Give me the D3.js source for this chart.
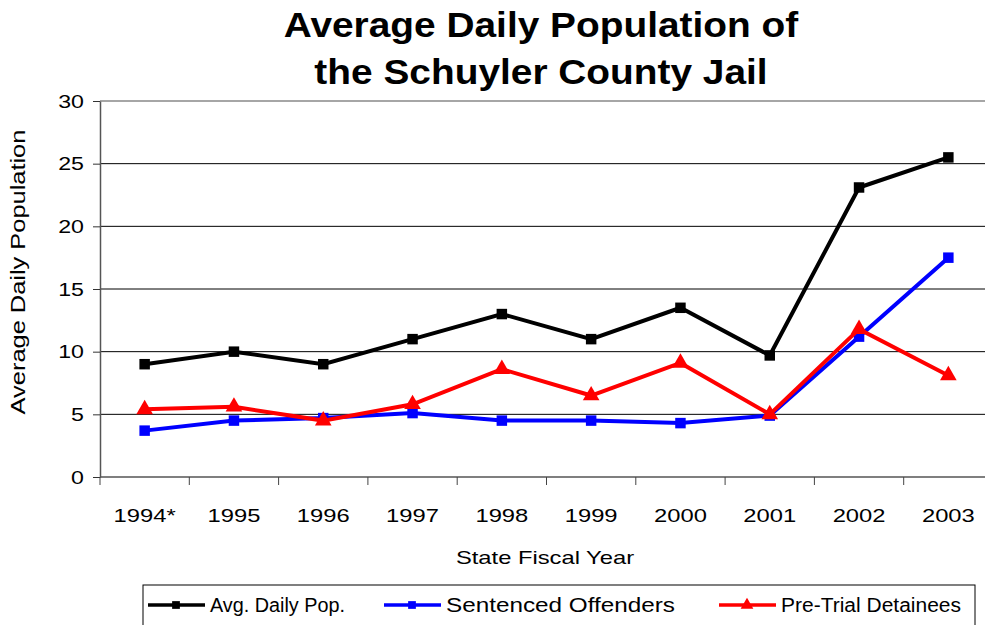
<!DOCTYPE html>
<html>
<head>
<meta charset="utf-8">
<title>Average Daily Population of the Schuyler County Jail</title>
<script src="https://d3js.org/d3.v7.min.js"></script>
<style>
  body { margin: 0; background: #fff; }
  text { font-family: "Liberation Sans", Arial, sans-serif; }
</style>
</head>
<body>
<svg id="chart"></svg>
<script>
// data
var years = ["1994*", "1995", "1996", "1997", "1998", "1999", "2000", "2001", "2002", "2003"];
var avgDaily = [9, 10, 9, 11, 13, 11, 13.5, 9.7, 23.1, 25.5];
var sentenced = [3.7, 4.5, 4.7, 5.1, 4.5, 4.5, 4.3, 4.9, 11.2, 17.5];
var preTrial = [5.4, 5.6, 4.5, 5.8, 8.6, 6.5, 9.1, 5.0, 11.8, 8.1];
var yTicks = [0, 5, 10, 15, 20, 25, 30];
var seriesNames = ["Avg. Daily Pop.", "Sentenced Offenders", "Pre-Trial Detainees"];

var series = [
  {name: seriesNames[0], values: avgDaily, color: "#000000", marker: "square"},
  {name: seriesNames[1], values: sentenced, color: "#0000ff", marker: "square"},
  {name: seriesNames[2], values: preTrial, color: "#ff0000", marker: "triangle"}
];

var W = 985, H = 625;
var margin = {top: 101, left: 100};
var width = 893, height = 376;

// the original's text is wider than Arial: scale glyphs horizontally
function hstretch(sel, f, pre){
  sel.each(function(){
    var t = d3.select(this);
    var x = +t.attr("x") || 0;
    t.attr("x", x / f).attr("transform", (pre || "") + " scale(" + f + ",1)");
  });
}

var svg = d3.select("#chart").attr("width", W).attr("height", H);

// title
svg.append("text").attr("x", 541).attr("y", 37)
  .attr("text-anchor", "middle").attr("font-size", 35).attr("font-weight", "bold")
  .text("Average Daily Population of")
  .call(hstretch, 1.11);
svg.append("text").attr("x", 541).attr("y", 84)
  .attr("text-anchor", "middle").attr("font-size", 35).attr("font-weight", "bold")
  .text("the Schuyler County Jail")
  .call(hstretch, 1.11);

var chart = svg.append("g")
  .attr("transform", "translate(" + margin.left + "," + margin.top + ")");

var x = d3.scaleBand().domain(years).range([0, width]).padding(0);
var y = d3.scaleLinear().domain([0, 30]).range([height, 0]);

// gridlines
chart.selectAll(".grid").data(yTicks.slice(1)).enter()
  .append("line")
  .attr("x1", 0).attr("x2", width)
  .attr("y1", function(d){ return y(d); }).attr("y2", function(d){ return y(d); })
  .attr("stroke", function(d){ return d === 30 ? "#888" : "#000"; })
  .attr("stroke-width", function(d){ return d === 30 ? 1.5 : 1; });

// y axis
var yAxis = chart.append("g")
  .call(d3.axisLeft(y).tickValues(yTicks).tickSize(7).tickPadding(9).tickSizeOuter(0));
yAxis.select(".domain").attr("stroke", "#555").attr("stroke-width", 1.5);
yAxis.selectAll(".tick line").attr("stroke", "#333");
yAxis.selectAll("text").attr("font-size", 19).attr("fill", "#000")
  .attr("font-family", "Liberation Sans, Arial, sans-serif")
  .call(hstretch, 1.22);

// x axis (ticks at band boundaries)
var xg = chart.append("g").attr("transform", "translate(0," + height + ")");
xg.append("line").attr("x1", 0).attr("x2", width).attr("y1", 0).attr("y2", 0)
  .attr("stroke", "#555").attr("stroke-width", 1.5);
var bounds = d3.range(years.length + 1);
xg.selectAll(".xt").data(bounds).enter().append("line")
  .attr("x1", function(i){ return i * x.bandwidth(); })
  .attr("x2", function(i){ return i * x.bandwidth(); })
  .attr("y1", 0).attr("y2", 8).attr("stroke", "#444").attr("stroke-width", 1);
xg.selectAll(".xl").data(years).enter().append("text")
  .attr("x", function(d){ return x(d) + x.bandwidth() / 2; })
  .attr("y", 45)
  .attr("text-anchor", "middle").attr("font-size", 19)
  .text(function(d){ return d; })
  .call(hstretch, 1.25);

// axis titles
svg.append("text").attr("x", 545).attr("y", 564)
  .attr("text-anchor", "middle").attr("font-size", 19)
  .text("State Fiscal Year")
  .call(hstretch, 1.25);
svg.append("text")
  .attr("text-anchor", "middle").attr("font-size", 20)
  .text("Average Daily Population")
  .call(hstretch, 1.27, "translate(25,272) rotate(-90)");

// lines and markers
var line = d3.line()
  .x(function(d, i){ return x(years[i]) + x.bandwidth() / 2; })
  .y(function(d){ return y(d); });

var sq = d3.symbol().type(d3.symbolSquare).size(110);
var tri = d3.symbol().type(d3.symbolTriangle).size(120);

series.forEach(function(s){
  chart.append("path").datum(s.values)
    .attr("d", line).attr("fill", "none")
    .attr("stroke", s.color).attr("stroke-width", 4)
    .attr("stroke-linejoin", "miter");
  chart.selectAll(null).data(s.values).enter().append("path")
    .attr("transform", function(d, i){
      return "translate(" + (x(years[i]) + x.bandwidth() / 2) + "," + y(d) + ")";
    })
    .attr("d", s.marker === "square" ? sq : tri)
    .attr("fill", s.color);
});

// legend
var legend = svg.append("g");
legend.append("rect").attr("x", 143).attr("y", 585).attr("width", 832).attr("height", 60)
  .attr("fill", "#fff").attr("stroke", "#000").attr("stroke-width", 1);
var legX = [148, 384, 719];
var legLen = [135, 229, 180];
var smallSq = d3.symbol().type(d3.symbolSquare).size(60);
var smallTri = d3.symbol().type(d3.symbolTriangle).size(70);
series.forEach(function(s, k){
  var g = legend.append("g").attr("transform", "translate(" + legX[k] + ",605)");
  g.append("line").attr("x1", 0).attr("x2", 57).attr("y1", 0).attr("y2", 0)
    .attr("stroke", s.color).attr("stroke-width", 3.5);
  g.append("path").attr("transform", "translate(28,0)")
    .attr("d", s.marker === "square" ? smallSq : smallTri).attr("fill", s.color);
  g.append("text").attr("x", 62).attr("y", 7).attr("font-size", 20)
    .attr("textLength", legLen[k]).attr("lengthAdjust", "spacingAndGlyphs")
    .text(s.name);
});
</script>
</body>
</html>
